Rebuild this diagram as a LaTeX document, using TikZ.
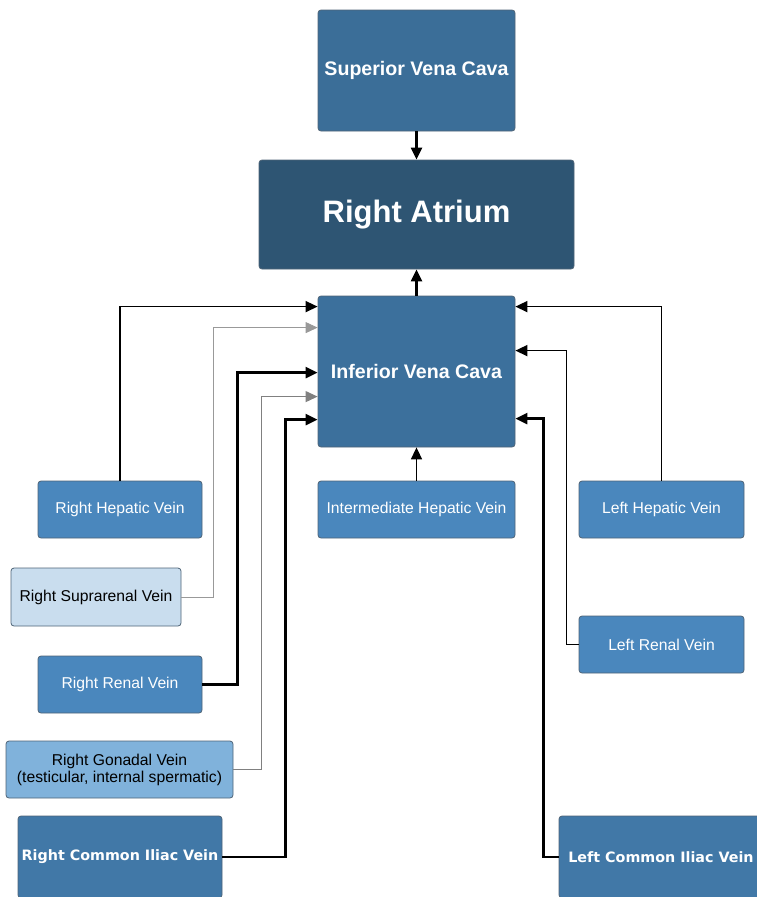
\documentclass[tikz,border=0pt]{standalone}
\usepackage{fontspec}
\setmainfont{Liberation Sans}
\newfontfamily\vfont{DejaVu Sans}
\usetikzlibrary{arrows.meta,calc}
\definecolor{svc}{HTML}{3B6E98}
\definecolor{ra}{HTML}{2E5573}
\definecolor{ivc}{HTML}{3C709C}
\definecolor{mid}{HTML}{4A87BD}
\definecolor{pale}{HTML}{C9DDEE}
\definecolor{gon}{HTML}{80B2DB}
\definecolor{ili}{HTML}{4178A7}
\definecolor{edge}{HTML}{4F6477}
\tikzset{
  box/.style={draw=edge, line width=0.8pt, rounded corners=3pt, inner sep=0pt, align=center},
  lab/.style={box, text=white, font=\fontsize{15.7}{18}\selectfont},
  alab/.style={box, text=white, font=\bfseries\fontsize{19.6}{23}\selectfont},
  blab/.style={box, text=white, font=\vfont\bfseries\fontsize{14.3}{17}\selectfont},
  conn/.style={-{Triangle[length=12pt,width=11pt]}, black},
}
\begin{document}
\begin{tikzpicture}[x=1pt,y=-1pt]
\useasboundingbox (0,0) rectangle (757,897);
\node[alab, fill=svc, minimum width=197, minimum height=121] (svc) at (416.5,70.5) {Superior Vena Cava};
\node[box, fill=ra, text=white, font=\bfseries\fontsize{31}{36}\selectfont, minimum width=315, minimum height=109] (ra) at (416.5,214.5) {Right Atrium};
\node[alab, fill=ivc, minimum width=197, minimum height=151] (ivc) at (416.5,371.5) {Inferior Vena Cava};
\node[lab, fill=mid, minimum width=164, minimum height=57] (rhv) at (120,509.5) {Right Hepatic Vein};
\node[lab, fill=mid, minimum width=197, minimum height=57] (ihv) at (416.5,509.5) {Intermediate Hepatic Vein};
\node[lab, fill=mid, minimum width=165, minimum height=57] (lhv) at (661.5,509.5) {Left Hepatic Vein};
\node[lab, fill=pale, text=black, minimum width=170, minimum height=58] (rsv) at (96,597) {Right Suprarenal Vein};
\node[lab, fill=mid, minimum width=165, minimum height=57] (lrv) at (661.5,644.5) {Left Renal Vein};
\node[lab, fill=mid, minimum width=164, minimum height=57] (rrv) at (120,684.5) {Right Renal Vein};
\node[lab, fill=gon, text=black, minimum width=227, minimum height=57, font=\fontsize{15.7}{17}\selectfont] (rgv) at (119.5,769.5) {Right Gonadal Vein\\(testicular, internal spermatic)};
\node[blab, fill=ili, minimum width=204, minimum height=82] (rciv) at (120,857) {Right Common Iliac Vein};
\node[blab, fill=ili, minimum width=204, minimum height=82] (lciv) at (661,857) {Left Common Iliac Vein};
% connectors
\draw[conn, line width=2.2pt] (svc.south) -- (ra.north);
\draw[conn, line width=2.2pt] (ivc.north) -- (ra.south);
\draw[conn, line width=1.6pt] (ihv.north) -- (ivc.south);
\draw[conn, line width=1.6pt] (rhv.north) |- ($(ivc.north west)+(0,11)$);
\draw[conn, line width=0.8pt, draw=gray!80] (rsv.east) -- ++(32,0) |- ($(ivc.north west)+(0,32)$);
\draw[conn, line width=2.4pt] (rrv.east) -- ++(35,0) |- ($(ivc.north west)+(0,77)$);
\draw[conn, line width=1.1pt, draw=gray] (rgv.east) -- ++(28,0) |- ($(ivc.north west)+(0,101)$);
\draw[conn, line width=2.4pt] (rciv.east) -- ++(63,0) |- ($(ivc.north west)+(0,124)$);
\draw[conn, line width=1.6pt] (lhv.north) |- ($(ivc.north east)+(0,11)$);
\draw[conn, line width=1.6pt] (lrv.west) -- ++(-12,0) |- ($(ivc.north east)+(0,55)$);
\draw[conn, line width=2.4pt] (lciv.west) -- ++(-15,0) |- ($(ivc.north east)+(0,123)$);
\end{tikzpicture}
\end{document}
